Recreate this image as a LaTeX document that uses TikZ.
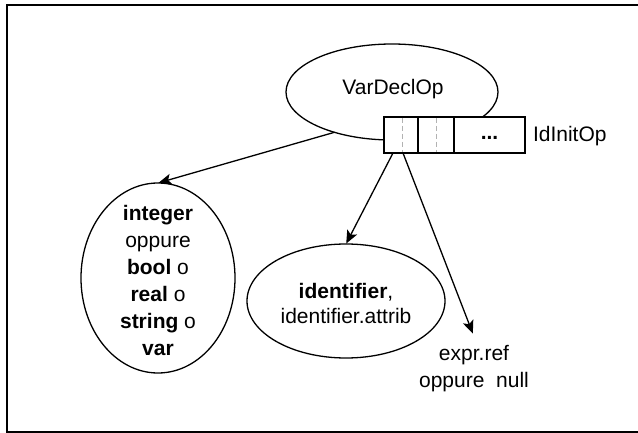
\documentclass[tikz,border=0pt]{standalone}
\usepackage{fontspec}
\setmainfont{Liberation Sans}
\usetikzlibrary{shapes.geometric,arrows.meta}
\begin{document}
\begin{tikzpicture}[x=1pt,y=-1pt,
  every node/.style={font=\fontsize{21}{27}\selectfont, inner sep=0pt, outer sep=0pt},
  oval/.style={ellipse, draw, line width=1.3pt, align=center},
  cell/.style={draw, line width=1.3pt, rectangle, minimum height=36pt},
  conn/.style={line width=1.3pt, -{Stealth[length=13pt,width=11pt,inset=3pt]}, shorten >=0.5pt},
  sep/.style={draw=gray!60, line width=1pt, dashed, dash pattern=on 5pt off 3pt}]
\useasboundingbox (0,0) rectangle (638,433);
\draw[line width=1.6pt] (7,5) rectangle (645,432);
% VarDeclOp ellipse
\node[oval, minimum width=212pt, minimum height=96pt] (vdo) at (392,92) {};
\node (vdotxt) at (393,89) {VarDeclOp};
% IdInitOp box
\node[cell, fill=white, minimum width=34pt, anchor=north west] (c1) at (384,117) {};
\node[cell, fill=white, minimum width=36pt, anchor=north west] (c2) at (418,117) {};
\node[cell, fill=white, minimum width=71pt, anchor=north west] (c3) at (454,117) {};
\node at (c3.center) [yshift=-3pt] {\textbf{...}};
\draw[sep] (402,118) -- (402,152);
\draw[sep] (436,118) -- (436,152);
\node[anchor=west] (iio) at (533,136) {IdInitOp};
% left ellipse
\node[oval, minimum width=154pt, minimum height=190pt] (types) at (158,278) {};
\node[align=center] (typestxt) at (158,280) {\textbf{integer}\\oppure\\\textbf{bool} o\\\textbf{real} o\\\textbf{string} o\\\textbf{var}};
% middle ellipse
\node[oval, minimum width=198pt, minimum height=114pt] (ident) at (346,301) {};
\node[align=center, font=\fontsize{21}{25}\selectfont] (identtxt) at (346,303) {\textbf{identifier},\\identifier.attrib};
% expr text
\node[align=center] (expr) at (474,369) {expr.ref\\oppure\ \ null};
\coordinate (exprtop) at (473,334);
% connectors
\draw[conn] (vdo.-145) -- (types.north);
\draw[conn] ([xshift=-8pt]c1.south) -- (ident.north);
\draw[conn] ([xshift=2pt]c1.south) -- (exprtop);
\end{tikzpicture}
\end{document}
